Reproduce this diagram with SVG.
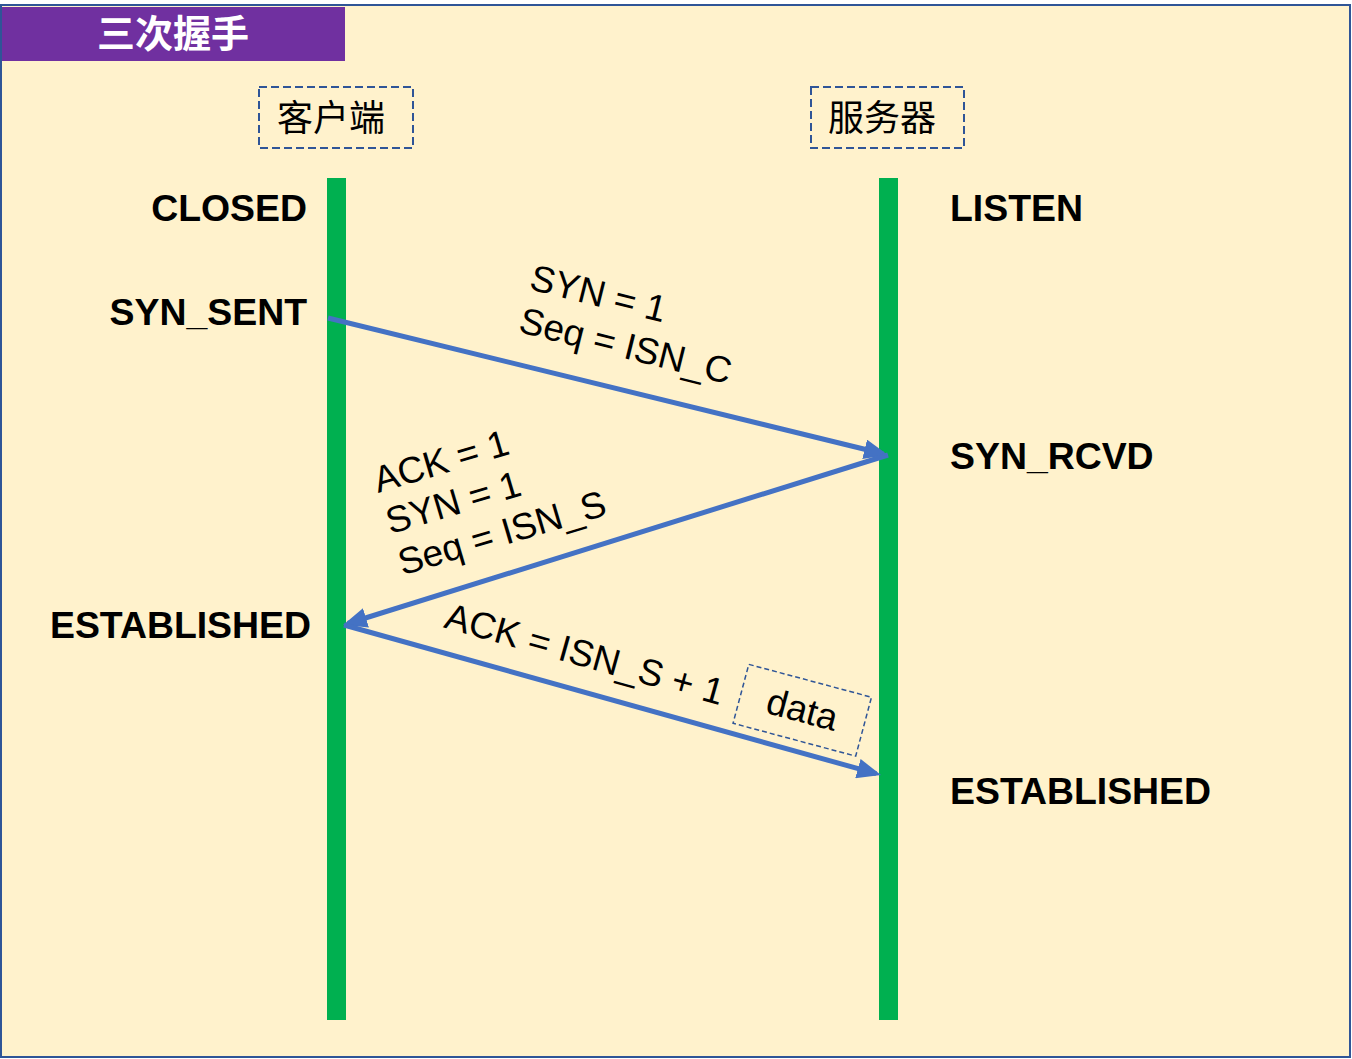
<svg xmlns="http://www.w3.org/2000/svg" width="1352" height="1059" viewBox="0 0 1352 1059">
<defs>
<marker id="ah" markerWidth="24" markerHeight="20" refX="19" refY="10" orient="auto" markerUnits="userSpaceOnUse"><path d="M0,0 L24,10 L0,20 z" fill="#4472C4"/></marker>
<style>
.state{font-family:"Liberation Sans",Arial,sans-serif;font-weight:bold;font-size:37.4px;fill:#000}
.lbl{font-family:"Liberation Sans",Arial,sans-serif;font-size:37px;fill:#000}
.cjk{font-family:"Noto Sans CJK SC","Noto Sans",sans-serif;font-size:36px;fill:#000}
.box{fill:none;stroke:#2F5597;stroke-width:2;stroke-dasharray:8 4}
.life{fill:#00B050}
.msg{stroke:#4472C4;stroke-width:5;fill:none;marker-end:url(#ah)}
</style>
</defs>
<rect x="1" y="5" width="1349" height="1052" fill="#FFF2CC" stroke="#2F5597" stroke-width="2"/>
<g id="title">
<rect x="2" y="7" width="343" height="54" fill="#7030A0"/>
<text x="173" y="47" text-anchor="middle" font-family="Noto Sans CJK SC, sans-serif" font-weight="bold" font-size="38" fill="#fff">三次握手</text>
</g>
<g id="client">
<rect class="box" x="259" y="87" width="154" height="61"/>
<text class="cjk" x="331" y="131" text-anchor="middle">客户端</text>
<rect class="life" x="327" y="178" width="19" height="842"/>
</g>
<g id="server">
<rect class="box" x="811" y="87" width="153" height="61"/>
<text class="cjk" x="882" y="131" text-anchor="middle">服务器</text>
<rect class="life" x="879" y="178" width="19" height="842"/>
</g>
<g id="client-states">
<text class="state" x="307" y="221" text-anchor="end">CLOSED</text>
<text class="state" x="307" y="325" text-anchor="end">SYN_SENT</text>
<text class="state" x="311" y="638" text-anchor="end">ESTABLISHED</text>
</g>
<g id="server-states">
<text class="state" x="950" y="221">LISTEN</text>
<text class="state" x="950" y="469">SYN_RCVD</text>
<text class="state" x="950" y="804">ESTABLISHED</text>
</g>
<g id="connectors">
<line class="msg" x1="328" y1="318" x2="883.1" y2="453.8"/>
<line class="msg" x1="888" y1="455" x2="347.8" y2="623.5"/>
<line class="msg" x1="344" y1="625" x2="876.2" y2="773.7"/>
</g>
<g id="label-syn" transform="translate(528,289) rotate(14)">
<text class="lbl" x="0" y="0">SYN = 1</text>
<text class="lbl" x="0" y="44">Seq = ISN_C</text>
</g>
<g id="label-synack" transform="translate(378,493) rotate(-16.5)">
<text class="lbl" x="0" y="0">ACK = 1</text>
<text class="lbl" x="0" y="43">SYN = 1</text>
<text class="lbl" x="0" y="86">Seq = ISN_S</text>
</g>
<g id="label-ack" transform="translate(442.7,627.3) rotate(15.7)">
<text class="lbl" x="0" y="0">ACK = ISN_S + 1</text>
</g>
<g id="data" transform="translate(802.25,710.25) rotate(15)">
<rect x="-63.5" y="-30.5" width="127" height="61" fill="none" stroke="#2F5597" stroke-width="1.5" stroke-dasharray="5 3"/>
<text class="lbl" x="0" y="12" text-anchor="middle">data</text>
</g>
</svg>
